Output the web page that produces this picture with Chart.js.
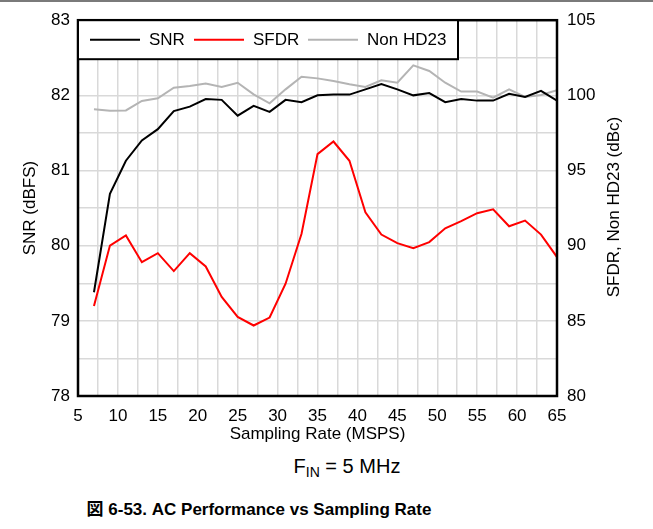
<!DOCTYPE html>
<html>
<head>
<meta charset="utf-8">
<script src="https://cdn.jsdelivr.net/npm/chart.js@4.4.0/dist/chart.umd.min.js"></script>
<style>
  html, body { margin: 0; padding: 0; background: #fff; }
  body { width: 653px; height: 529px; position: relative; overflow: hidden;
         font-family: "Liberation Sans", Arial, sans-serif; color: #000; }
  #topline { position: absolute; left: 0; top: 0; width: 653px; height: 2px; background: #7a7a7a; }
  #wrap { position: absolute; left: 0; top: 0; width: 653px; height: 455px; }
  #y1title { position: absolute; left: 514px; top: 196px; width: 200px; height: 22px; line-height: 22px;
             text-align: center; font-size: 17px; transform: rotate(-90deg); }
  #fin { position: absolute; left: 247px; top: 455px; width: 200px; text-align: center; font-size: 20px; }
  #fin sub { font-size: 14px; vertical-align: -4px; line-height: 0; }
  #caption { position: absolute; left: 0; top: 495px; width: 518px; text-align: center;
             font-size: 17px; font-weight: bold;
             font-family: "Liberation Sans", Arial, "Noto Sans CJK JP", sans-serif; }
</style>
</head>
<body>
<div id="topline"></div>
<div id="wrap"><canvas id="chart"></canvas></div>
<div id="y1title">SFDR, Non HD23 (dBc)</div>
<div id="fin">F<sub>IN</sub> = 5 MHz</div>
<div id="caption">図 6-53. AC Performance vs Sampling Rate</div>
<script>
// sampling rate (MSPS)
const rates = [7, 9, 11, 13, 15, 17, 19, 21, 23, 25, 27, 29, 31, 33, 35,
               37, 39, 41, 43, 45, 47, 49, 51, 53, 55, 57, 59, 61, 63, 65];

// SNR (dBFS) - left axis
const snr = [79.38, 80.69, 81.13, 81.40, 81.55, 81.79, 81.85, 81.95, 81.94, 81.73,
             81.86, 81.78, 81.94, 81.91, 82.00, 82.01, 82.01, 82.08, 82.15, 82.08,
             82.00, 82.03, 81.91, 81.95, 81.93, 81.93, 82.02, 81.98, 82.06, 81.93];

// SFDR (dBc) - right axis
const sfdr = [85.99, 90.01, 90.68, 88.90, 89.50, 88.31, 89.50, 88.62, 86.59, 85.26,
              84.69, 85.22, 87.47, 90.79, 96.09, 96.93, 95.65, 92.22, 90.74, 90.17,
              89.84, 90.24, 91.16, 91.63, 92.16, 92.42, 91.29, 91.67, 90.74, 89.24];

// Non HD23 (dBc) - right axis
const nonHd23 = [99.08, 98.97, 99.00, 99.63, 99.81, 100.51, 100.62, 100.78, 100.56, 100.84,
                 100.07, 99.47, 100.40, 101.24, 101.13, 100.96, 100.74, 100.56, 101.00, 100.84,
                 102.00, 101.62, 100.84, 100.25, 100.25, 99.85, 100.40, 99.89, 100.03, 100.34];

const seriesNames = ['SNR', 'SFDR', 'Non HD23'];
const seriesColors = ['#000000', '#ff0000', '#b4b4b4'];

const xTitle = 'Sampling Rate (MSPS)';
const yTitle = 'SNR (dBFS)';

const FONT = '"Liberation Sans", Arial, sans-serif';

function pts(ys) {
    return rates.map((x, i) => ({ x: x, y: ys[i] }));
}

// frame + legend box drawn over the plot
const frameAndLegend = {
    id: 'frameAndLegend',
    afterDraw(chart) {
        const ctx = chart.ctx;
        const a = chart.chartArea;
        ctx.save();
        ctx.strokeStyle = '#000';
        ctx.lineWidth = 2.5;
        ctx.strokeRect(a.left, a.top, a.right - a.left, a.bottom - a.top);

        // legend
        const w = 380, h = 39;
        ctx.fillStyle = '#fff';
        ctx.fillRect(a.left, a.top, w, h);
        ctx.lineWidth = 2;
        ctx.strokeRect(a.left, a.top, w, h);

        const starts = [12, 116, 230];
        const cy = a.top + 19.5;
        ctx.font = '17px ' + FONT;
        ctx.textBaseline = 'middle';
        ctx.textAlign = 'left';
        chart.data.datasets.forEach((ds, i) => {
            const x = a.left + starts[i];
            ctx.strokeStyle = ds.borderColor;
            ctx.lineWidth = 2;
            ctx.beginPath();
            ctx.moveTo(x, cy);
            ctx.lineTo(x + 50, cy);
            ctx.stroke();
            ctx.fillStyle = '#000';
            ctx.fillText(ds.label, x + 59, cy + 1);
        });
        ctx.restore();
    }
};

new Chart(document.getElementById('chart'), {
    type: 'line',
    data: {
        datasets: [
            { label: seriesNames[0], data: pts(snr), borderColor: seriesColors[0], yAxisID: 'y' },
            { label: seriesNames[1], data: pts(sfdr), borderColor: seriesColors[1], yAxisID: 'y1' },
            { label: seriesNames[2], data: pts(nonHd23), borderColor: seriesColors[2], yAxisID: 'y1' }
        ]
    },
    options: {
        responsive: true,
        maintainAspectRatio: false,
        animation: false,
        devicePixelRatio: 1,
        layout: { padding: { top: 19, left: 0, right: 0, bottom: 0 } },
        elements: {
            line: { borderWidth: 2, tension: 0, fill: false },
            point: { radius: 0, hoverRadius: 0 }
        },
        plugins: {
            legend: { display: false },
            tooltip: { enabled: false }
        },
        scales: {
            x: {
                type: 'linear',
                min: 5, max: 65,
                afterFit: s => { s.height = 59; },
                border: { display: false },
                grid: { color: '#d9d9d9', lineWidth: 1.5, drawTicks: false },
                ticks: {
                    stepSize: 2.5, padding: 10, color: '#000', maxRotation: 0,
                    autoSkip: false,
                    font: { family: FONT, size: 17 },
                    callback: v => (v % 5 === 0 ? v : '')
                },
                title: {
                    display: true, text: xTitle, color: '#000',
                    font: { family: FONT, size: 17 },
                    padding: { top: 0, bottom: 10 }
                }
            },
            y: {
                position: 'left',
                min: 78, max: 83,
                afterFit: s => { s.width = 78; },
                border: { display: false },
                grid: { color: '#d9d9d9', lineWidth: 1.5, drawTicks: false },
                ticks: {
                    stepSize: 0.5, padding: 8, color: '#000', autoSkip: false,
                    font: { family: FONT, size: 17 },
                    callback: v => (v % 1 === 0 ? v : '')
                },
                title: {
                    display: true, text: yTitle, color: '#000',
                    font: { family: FONT, size: 17 },
                    padding: { top: 20, bottom: 0 }
                }
            },
            y1: {
                position: 'right',
                min: 80, max: 105,
                afterFit: s => { s.width = 96; },
                border: { display: false },
                grid: { display: false, drawTicks: false },
                ticks: {
                    stepSize: 5, padding: 10, color: '#000',
                    font: { family: FONT, size: 17 }
                }
            }
        }
    },
    plugins: [frameAndLegend]
});
</script>
</body>
</html>
